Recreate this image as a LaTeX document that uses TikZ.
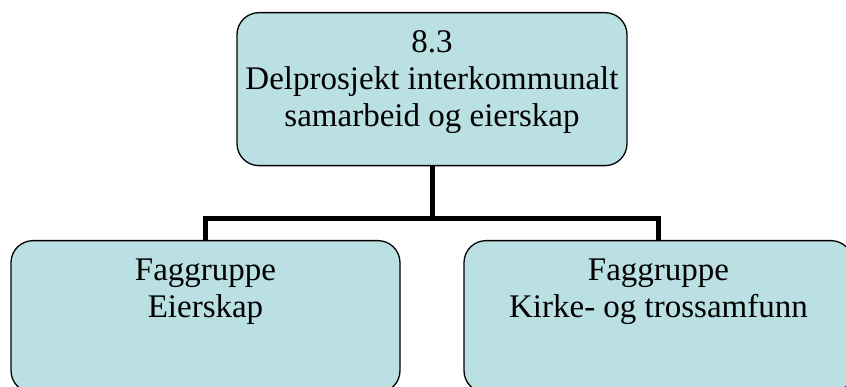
\documentclass[tikz,border=0pt]{standalone}
\usepackage{fontspec}
\setmainfont{Liberation Serif}
\usepackage{xcolor}
\usetikzlibrary{positioning, calc}
\definecolor{boxfill}{RGB}{186,224,227}

\begin{document}
\begin{tikzpicture}[
    x=1pt, y=-1pt,
    unit/.style={rectangle, rounded corners=22pt, draw=black, line width=1.3pt, fill=boxfill, align=center, anchor=north,
        font=\fontsize{33}{37}\selectfont, inner xsep=0pt, inner ysep=17pt},
    link/.style={line width=5pt}
]
\useasboundingbox (0,0) rectangle (846,387);

% Units
\node[unit, minimum width=390pt, text height=97pt, text depth=22pt] (project) at (432, 12) {8.3\\Delprosjekt interkommunalt\\samarbeid og eierskap};
\node[unit, minimum width=389pt, text height=60pt, text depth=58pt] (owner) at (205.5, 240) {Faggruppe\\Eierskap};
\node[unit, minimum width=389pt, text height=60pt, text depth=58pt] (church) at (658.5, 240) {Faggruppe\\Kirke- og trossamfunn};

% Links
\coordinate (split) at ($(project.south)+(0,52)$);
\draw[link] (project.south) -- (split);
\draw[link] (split) -| (owner.north);
\draw[link] (split) -| (church.north);

\end{tikzpicture}
\end{document}
